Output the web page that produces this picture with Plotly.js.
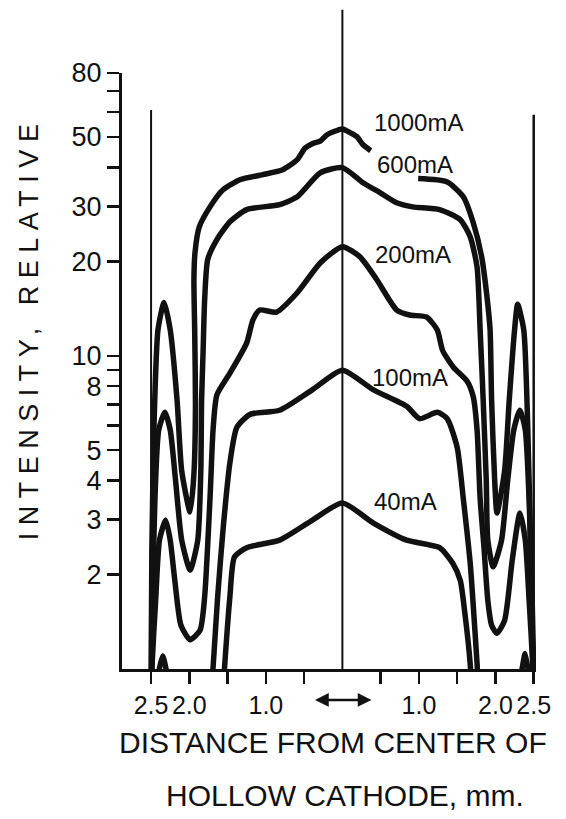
<!DOCTYPE html>
<html>
<head>
<meta charset="utf-8">
<script src="https://cdn.plot.ly/plotly-3.0.1.min.js"></script>
<style>
html,body{margin:0;padding:0;background:#fff;}
#chart{width:566px;height:819px;}
</style>
</head>
<body>
<div id="chart"></div>
<script>
// ---- data (distance from center, mm; relative intensity) ----
const seriesNames = ["1000mA", "600mA", "200mA", "100mA", "40mA"];

const x1000 = [-2.53, -2.50, -2.49, -2.46, -2.41, -2.33, -2.25, -2.16, -2.10, -1.99, -1.94, -1.92, -1.93, -1.94, -1.925, -1.87, -1.73, -1.56, -1.34, -1.04, -0.78, -0.59, -0.49, -0.40, -0.29, -0.20, 0.0, 0.10, 0.19, 0.27, 0.37, 0.60, 0.99, 1.37, 1.58, 1.71, 1.82, 1.89, 1.93, 1.95, 1.99, 2.02, 2.12, 2.18, 2.25, 2.29, 2.37, 2.42, 2.46, 2.49, 2.52];
const y1000 = [0.6, 1.0, 2.4, 6.2, 12.1, 14.8, 12.1, 7.2, 4.3, 3.17, 4.2, 7.0, 12.0, 17.5, 21.5, 25.8, 29.9, 33.9, 36.5, 37.9, 39.3, 42.3, 46.0, 47.5, 48.5, 50.8, 53.0, 51.6, 50.1, 47.2, 45.2, null, 36.8, 35.9, 32.2, 26.6, 20.7, 15.4, 12.1, 7.2, 4.0, 3.15, 4.3, 7.2, 12.1, 14.6, 12.1, 6.2, 2.4, 1.0, 0.6];

const x600 = [-2.52, -2.49, -2.48, -2.45, -2.40, -2.32, -2.25, -2.18, -2.10, -1.99, -1.89, -1.85, -1.84, -1.82, -1.80, -1.76, -1.64, -1.47, -1.25, -0.82, -0.59, -0.29, 0.0, 0.27, 0.49, 0.71, 0.92, 1.27, 1.54, 1.67, 1.76, 1.80, 1.84, 1.88, 1.90, 1.97, 2.08, 2.16, 2.24, 2.32, 2.39, 2.44, 2.48, 2.50, 2.53];
const y600 = [0.6, 1.0, 1.66, 3.47, 5.8, 6.6, 5.8, 4.0, 2.58, 2.07, 2.58, 4.3, 7.2, 10.4, 15.1, 20.3, 23.5, 26.8, 29.3, 30.4, 32.2, 38.4, 39.9, 35.7, 33.2, 30.8, 29.9, 29.3, 27.2, 24.0, 19.2, 12.1, 7.2, 4.0, 2.58, 2.12, 2.58, 4.0, 5.8, 6.7, 5.8, 3.47, 1.66, 1.0, 0.6];

const x200 = [-2.52, -2.49, -2.44, -2.39, -2.31, -2.25, -2.19, -2.11, -1.99, -1.86, -1.80, -1.73, -1.69, -1.64, -1.47, -1.25, -1.17, -1.08, -0.86, -0.59, -0.29, 0.0, 0.23, 0.45, 0.71, 0.88, 1.10, 1.24, 1.31, 1.45, 1.63, 1.71, 1.76, 1.80, 1.85, 1.90, 1.95, 2.02, 2.12, 2.22, 2.32, 2.39, 2.44, 2.49, 2.52];
const y200 = [0.6, 1.0, 1.66, 2.58, 2.99, 2.58, 1.92, 1.38, 1.24, 1.33, 1.70, 3.5, 5.8, 7.5, 8.8, 11.0, 13.0, 14.0, 13.8, 15.9, 19.8, 22.3, 20.7, 17.5, 14.0, 13.5, 13.3, 12.1, 10.4, 9.2, 8.3, 7.4, 5.8, 3.5, 2.45, 1.66, 1.38, 1.30, 1.43, 2.23, 3.15, 2.58, 1.66, 1.0, 0.6];

const x100 = [-2.52, -2.44, -2.35, -2.25, -2.10, -1.76, -1.69, -1.63, -1.56, -1.47, -1.38, -1.21, -0.82, -0.39, 0.0, 0.40, 0.84, 1.01, 1.24, 1.37, 1.50, 1.58, 1.67, 1.76, 1.82, 2.10, 2.30, 2.39, 2.46, 2.52];
const y100 = [0.5, 0.85, 1.10, 0.85, 0.5, 0.6, 1.01, 1.70, 2.78, 4.55, 5.9, 6.5, 6.7, 7.8, 9.0, 7.8, 6.9, 6.3, 6.6, 6.3, 5.1, 3.5, 2.18, 1.04, 0.6, 0.5, 0.85, 1.12, 0.85, 0.5];

const x40 = [-1.62, -1.54, -1.47, -1.41, -1.25, -0.82, -0.39, 0.0, 0.40, 0.84, 1.27, 1.44, 1.54, 1.60, 1.67, 1.74];
const y40 = [0.5, 1.01, 1.70, 2.28, 2.44, 2.58, 2.99, 3.39, 2.93, 2.58, 2.44, 2.18, 1.92, 1.51, 1.04, 0.5];

// label anchor positions (x in mm, y in relative intensity)
const labelX = [0.99, 0.95, 0.92, 0.88, 0.82];
const labelY = [55.5, 40.7, 21.0, 8.5, 3.42];

// axis ticks
const yTickVals = [2, 3, 4, 5, 6, 7, 8, 9, 10, 20, 30, 40, 50, 60, 70, 80];
const yTickText = ["2", "3", "4", "5", "", "", "8", "", "10", "20", "30", "", "50", "", "", "80"];
const xTickVals = [-2.5, -2, -1.5, -1, -0.5, 0.5, 1, 1.5, 2, 2.5];
const xTickText = ["2.5", "2.0", "", "1.0", "", "", "1.0", "", "2.0", "2.5"];
const refLinesX = [-2.5, 0, 2.5];

const FONT = "Liberation Sans, Arial, Helvetica, sans-serif";
const INK = "#111";

const xs = [x1000, x600, x200, x100, x40];
const ys = [y1000, y600, y200, y100, y40];

const traces = xs.map((x, i) => ({
  type: "scatter", mode: "lines", x: x, y: ys[i], name: seriesNames[i],
  line: {color: INK, width: 5.5, shape: "spline", smoothing: 0.6},
  connectgaps: false, hoverinfo: "skip"
}));

const labelAnns = seriesNames.map((n, i) => ({
  text: n, x: labelX[i], y: Math.log10(labelY[i]), xref: "x", yref: "y",
  showarrow: false, xanchor: "center", yanchor: "middle",
  font: {family: FONT, size: 24, color: INK}
}));

const shapes = [
  {type: "line", xref: "x", yref: "paper", x0: refLinesX[0], x1: refLinesX[0], y0: 0, y1: 0.938, line: {color: INK, width: 2}},
  {type: "line", xref: "x", yref: "paper", x0: refLinesX[1], x1: refLinesX[1], y0: 0, y1: 1.106, line: {color: INK, width: 2}},
  {type: "line", xref: "x", yref: "paper", x0: refLinesX[2], x1: refLinesX[2], y0: -0.022, y1: 0.93, line: {color: INK, width: 2.5}}
];

const annotations = labelAnns.concat([
  {text: "INTENSITY, RELATIVE", xref: "paper", yref: "paper", x: -0.225, y: 0.572,
   textangle: -90, showarrow: false, xanchor: "center", yanchor: "middle",
   font: {family: FONT, size: 27, color: INK}},
  {text: "DISTANCE FROM CENTER OF", xref: "paper", yref: "paper", x: 0.51, y: -0.1225,
   showarrow: false, xanchor: "center", yanchor: "middle",
   font: {family: FONT, size: 30, color: INK}},
  {text: "HOLLOW CATHODE, mm.", xref: "paper", yref: "paper", x: 0.539, y: -0.213,
   showarrow: false, xanchor: "center", yanchor: "middle",
   font: {family: FONT, size: 30, color: INK}},
  {text: "", xref: "x", yref: "paper", x: 0.38, y: -0.052, axref: "pixel", ayref: "pixel",
   ax: -58, ay: 0, showarrow: true, arrowhead: 2, arrowside: "end+start",
   arrowsize: 1.1, arrowwidth: 2.5, arrowcolor: INK, standoff: 0, startstandoff: 0}
]);

const layout = {
  width: 566, height: 819,
  margin: {l: 122, r: 30, t: 73, b: 150},
  paper_bgcolor: "#fff", plot_bgcolor: "#fff",
  showlegend: false,
  font: {family: FONT, color: INK},
  xaxis: {
    range: [-2.88, 2.53], showgrid: false, zeroline: false,
    showline: true, linecolor: INK, linewidth: 3,
    ticks: "outside", ticklen: 12, tickwidth: 2.5, tickcolor: INK,
    tickmode: "array", tickvals: xTickVals, ticktext: xTickText, tickangle: 0,
    tickfont: {family: FONT, size: 25, color: INK}
  },
  yaxis: {
    type: "log", range: [0, Math.log10(80)], showgrid: false, zeroline: false,
    showline: true, linecolor: INK, linewidth: 3,
    ticks: "outside", ticklen: 12, tickwidth: 2.5, tickcolor: INK,
    tickmode: "array", tickvals: yTickVals, ticktext: yTickText,
    tickfont: {family: FONT, size: 27, color: INK}
  },
  shapes: shapes,
  annotations: annotations
};

Plotly.newPlot("chart", traces, layout, {staticPlot: true, displayModeBar: false}).then(gd => {
  gd.querySelectorAll(".annotation-text").forEach(t => {
    if (t.textContent === "INTENSITY, RELATIVE") t.setAttribute("letter-spacing", "7.5px");
  });
});
</script>
</body>
</html>
